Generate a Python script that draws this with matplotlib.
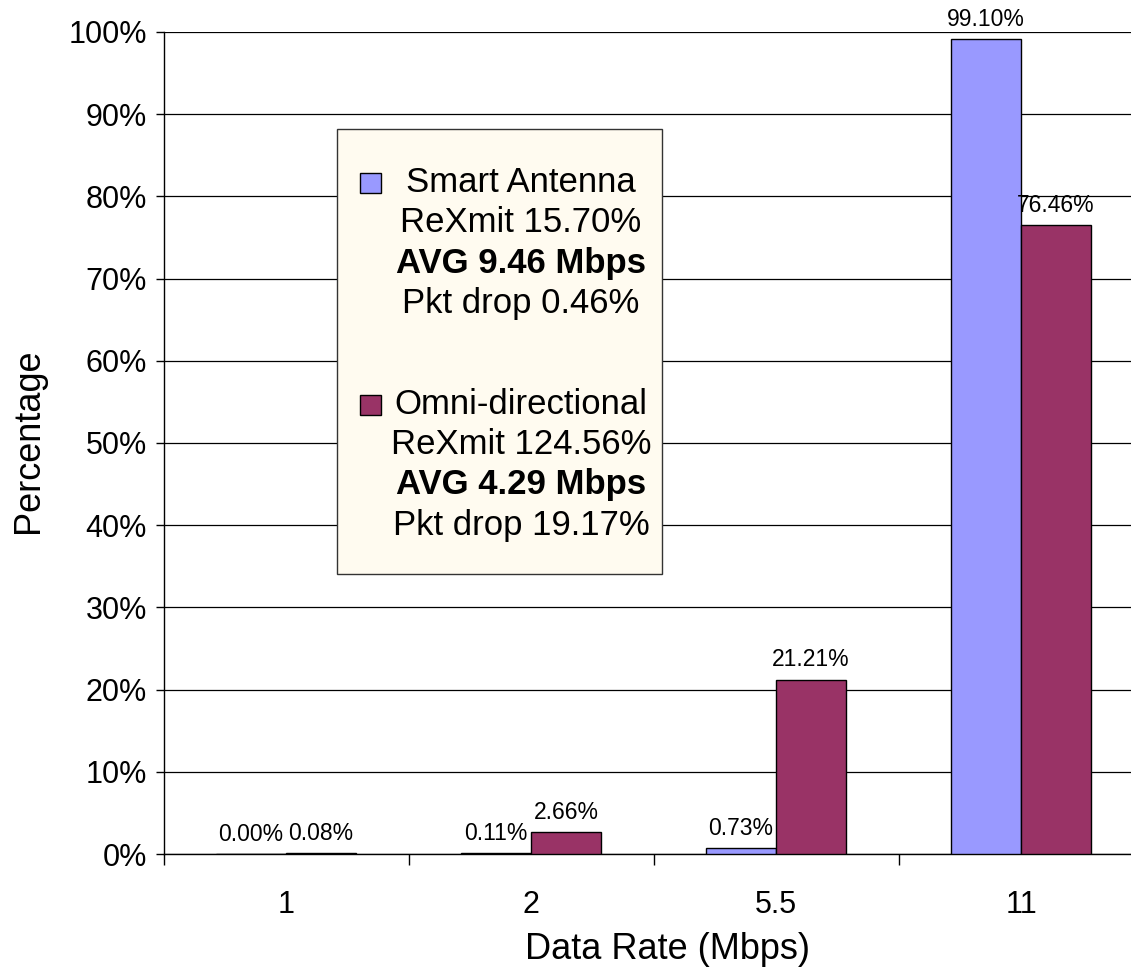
import matplotlib.pyplot as plt
import numpy as np
from matplotlib.patches import Rectangle
from matplotlib.ticker import FuncFormatter

plt.rcParams["font.family"] = ["Liberation Sans", "DejaVu Sans"]

# data rates and share of packets sent at each rate
RATES = ["1", "2", "5.5", "11"]
SMART = [0.00, 0.11, 0.73, 99.10]
OMNI = [0.08, 2.66, 21.21, 76.46]

SMART_INFO = ["Smart Antenna", "ReXmit 15.70%", "AVG 9.46 Mbps", "Pkt drop 0.46%"]
OMNI_INFO = ["Omni-directional", "ReXmit 124.56%", "AVG 4.29 Mbps", "Pkt drop 19.17%"]

BLUE = "#9999FF"
PURPLE = "#993366"

W, H = 1131, 977
fig = plt.figure(figsize=(W / 100, H / 100), dpi=100)


def fx(px):
    return px / W


def fy(py):
    return 1 - py / H


ax = fig.add_axes([fx(163.5), fy(854), fx(1143.5) - fx(163.5), fy(32) - fy(854)])

x = np.arange(len(RATES))
bw = 0.286
b1 = ax.bar(x - bw / 2, SMART, bw, color=BLUE, edgecolor="black", linewidth=1, zorder=3)
b2 = ax.bar(x + bw / 2, OMNI, bw, color=PURPLE, edgecolor="black", linewidth=1, zorder=3)

for bars, vals in ((b1, SMART), (b2, OMNI)):
    for rect, v in zip(bars, vals):
        ax.annotate(f"{v:.2f}%", (rect.get_x() + rect.get_width() / 2, v),
                    xytext=(0, 6), textcoords="offset points",
                    ha="center", va="bottom", fontsize=16.5, zorder=4)

ax.set_xlim(-0.5, len(RATES) - 0.5)
ax.set_ylim(0, 100)
ax.set_yticks(np.arange(0, 101, 10))
ax.yaxis.set_major_formatter(FuncFormatter(lambda v, _: f"{v:.0f}%"))
ax.yaxis.grid(True, color="black", linewidth=0.9, zorder=0)
ax.set_axisbelow(True)

# ticks at category boundaries, labels at centres
ax.set_xticks(np.arange(-0.5, len(RATES), 1.0))
ax.set_xticklabels([])
ax.set_xticks(x, minor=True)
ax.set_xticklabels(RATES, minor=True)
ax.tick_params(axis="x", which="major", length=8, width=1, direction="out")
ax.tick_params(axis="x", which="minor", length=0, pad=26, labelsize=22)
ax.tick_params(axis="y", length=6, width=1, pad=6, labelsize=22)

for side in ("top", "right"):
    ax.spines[side].set_visible(False)
ax.spines["left"].set_linewidth(1)
ax.spines["bottom"].set_linewidth(1)

ax.set_xlabel("Data Rate (Mbps)", fontsize=26)
ax.xaxis.set_label_coords(0.514, -0.095)
fig.text(fx(29), fy(441), "Percentage", rotation=90, fontsize=26,
         ha="center", va="center")

# legend box with per-series statistics
fig.patches.append(Rectangle((fx(337), fy(574)), fx(662) - fx(337), fy(129) - fy(574),
                             transform=fig.transFigure, facecolor="#FFFBF0",
                             edgecolor="#333333", linewidth=1, zorder=5))

for y0, color, lines in ((183, BLUE, SMART_INFO), (405, PURPLE, OMNI_INFO)):
    fig.patches.append(Rectangle((fx(360), fy(y0 + 10)), fx(21), fy(0) - fy(20),
                                 transform=fig.transFigure, facecolor=color,
                                 edgecolor="black", linewidth=1, zorder=6))
    for i, line in enumerate(lines):
        fig.text(fx(521), fy(y0 + i * 40), line, fontsize=25, ha="center", va="center",
                 fontweight="bold" if line.startswith("AVG") else "normal", zorder=7)

fig.savefig("out.png", dpi=100)
